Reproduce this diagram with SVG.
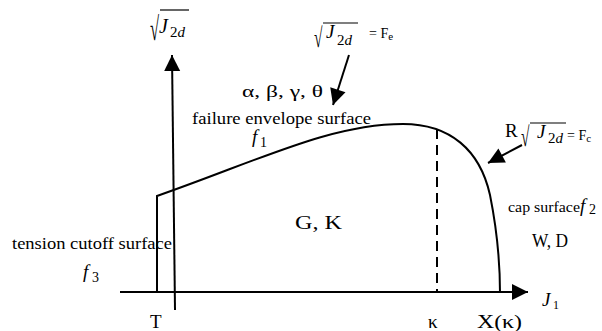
<svg xmlns="http://www.w3.org/2000/svg" width="602" height="331" viewBox="0 0 602 331" font-family="'Liberation Serif', 'Times New Roman', serif">
<style>
text{font-family:'Liberation Serif','Times New Roman',serif;fill:#000}
.t{font-size:17.5px}
.it{font-style:italic}
.rad{font-size:22px}
.ln{stroke:#000;stroke-width:2;fill:none}
.thin{stroke:#000;stroke-width:1.2;fill:none}
</style>
<defs>
<marker id="ah" markerUnits="userSpaceOnUse" markerWidth="17" markerHeight="16" refX="16" refY="8" orient="auto" overflow="visible">
<path d="M0,0 L16,8 L0,16 z" fill="#000"/>
</marker>
</defs>
<g id="connectors">
<line class="ln" x1="120" y1="292" x2="528" y2="292" marker-end="url(#ah)"/>
<line class="ln" x1="175" y1="310" x2="172" y2="55" marker-end="url(#ah)"/>
<line class="ln" x1="349" y1="55" x2="333" y2="105" marker-end="url(#ah)"/>
<line class="ln" x1="522" y1="145" x2="488" y2="163" marker-end="url(#ah)"/>
</g>
<g id="surface-curve">
<path class="ln" d="M157,293 L157,196 C260,160 330,124 403,124 C450,124 480,150 490,195 C497,230 500,260 500,293"/>
<line class="ln" x1="437" y1="129" x2="437" y2="293" stroke-dasharray="10 6"/>
</g>
<g id="label-axis-y">
<text class="rad" transform="translate(150,40) scale(0.75,1.5)">√</text>
<line class="thin" x1="160" y1="10" x2="189" y2="10"/>
<text class="it" x="159" y="33" style="font-size:20px">J</text>
<text x="170" y="37" style="font-size:15px">2<tspan class="it">d</tspan></text>
</g>
<g id="label-Fe">
<text class="rad" transform="translate(314,47) scale(0.7,1.25)">√</text>
<line class="thin" x1="323" y1="23" x2="358" y2="23"/>
<text class="it" x="326" y="38" style="font-size:19px">J</text>
<text x="337" y="45" style="font-size:15px">2<tspan class="it">d</tspan></text>
<text x="369" y="38" style="font-size:14px">= F<tspan style="font-size:11px" dy="2">e</tspan></text>
</g>
<g id="label-params">
<text class="t" x="242" y="97" textLength="81" lengthAdjust="spacingAndGlyphs">α, β, γ, θ</text>
</g>
<g id="label-f1">
<text class="t" x="192" y="124" textLength="179" lengthAdjust="spacingAndGlyphs">failure envelope surface</text>
<text class="it" x="252" y="143" style="font-size:19px">f</text>
<text x="260" y="147" style="font-size:14px">1</text>
</g>
<g id="label-R">
<text x="505" y="137" style="font-size:19px">R</text>
<text class="rad" transform="translate(521,146) scale(0.7,1.25)">√</text>
<line class="thin" x1="530" y1="123" x2="566" y2="123"/>
<text class="it" x="537" y="138" style="font-size:19px">J</text>
<text x="548" y="143" style="font-size:15px">2<tspan class="it">d</tspan></text>
<text x="567" y="140" style="font-size:14px">= F<tspan style="font-size:11px" dy="2">c</tspan></text>
</g>
<g id="label-cap">
<text x="508" y="212" style="font-size:14px" textLength="72" lengthAdjust="spacingAndGlyphs">cap surface</text>
<text class="it" x="580" y="212" style="font-size:19px">f</text>
<text x="589" y="214" style="font-size:14px">2</text>
</g>
<g id="label-WD">
<text x="532" y="247" style="font-size:18px" textLength="36" lengthAdjust="spacingAndGlyphs">W, D</text>
</g>
<g id="label-GK">
<text x="295" y="229" style="font-size:19px" textLength="47" lengthAdjust="spacingAndGlyphs">G, K</text>
</g>
<g id="label-f3">
<text class="t" x="12" y="249" textLength="160" lengthAdjust="spacingAndGlyphs">tension cutoff surface</text>
<text class="it" x="83" y="278" style="font-size:19px">f</text>
<text x="92" y="282" style="font-size:14px">3</text>
</g>
<g id="label-T">
<text x="150" y="328" style="font-size:19px">T</text>
</g>
<g id="label-kappa">
<text x="428" y="328" style="font-size:19px">κ</text>
</g>
<g id="label-X">
<text x="477" y="328" style="font-size:19px" textLength="45" lengthAdjust="spacingAndGlyphs">X(κ)</text>
</g>
<g id="label-J1">
<text class="it" x="542" y="306" style="font-size:19px">J</text>
<text x="553" y="309" style="font-size:12px">1</text>
</g>
</svg>
